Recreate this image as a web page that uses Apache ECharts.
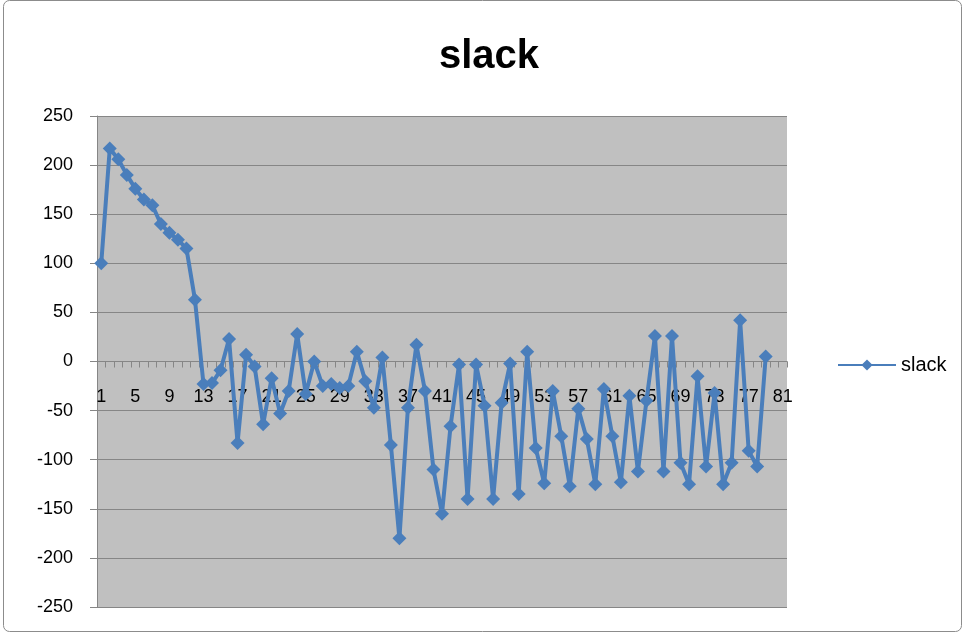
<!DOCTYPE html>
<html>
<head>
<meta charset="utf-8">
<script src="https://cdn.jsdelivr.net/npm/echarts@6/dist/echarts.min.js"></script>
<style>
html,body{margin:0;padding:0;background:#fff;}
#chart{width:964px;height:635px;}
</style>
</head>
<body>
<div id="chart"></div>
<script>
var categories = ['1','2','3','4','5','6','7','8','9','10','11','12','13','14','15','16','17','18','19','20',
'21','22','23','24','25','26','27','28','29','30','31','32','33','34','35','36','37','38','39','40',
'41','42','43','44','45','46','47','48','49','50','51','52','53','54','55','56','57','58','59','60',
'61','62','63','64','65','66','67','68','69','70','71','72','73','74','75','76','77','78','79','80','81'];

var slackValues = [100,217,206,190,176,165,159,140,131,124,115,63,-23,
-22,-9,23,-83,7,-5,-64,-17,-53,-30,28,-33,0,
-25,-23,-27,-25,10,-20,-47,4,-85,-180,-47,17,-30,
-110,-155,-66,-3,-140,-3,-45,-140,-42,-2,-135,10,-88,
-124,-30,-76,-127,-48,-79,-125,-28,-76,-123,-35,-112,-40,
26,-112,26,-103,-125,-15,-107,-32,-125,-103,42,-91,-107,5];

var yTicks = {min: -250, max: 250, step: 50};
var seriesName = 'slack';
var titleText = 'slack';

var chart = echarts.init(document.getElementById('chart'), null, {renderer: 'canvas'});
var fontFam = '"Liberation Sans", Arial, sans-serif';
var gridColor = '#868686';
var lineColor = '#4a7ebb';

var gridTop = 116, gridBottom = 28, chartH = 635;
var plotH = chartH - gridTop - gridBottom;
// x axis sits on the value 0 line
var zeroOffset = -plotH * (0 - yTicks.min) / (yTicks.max - yTicks.min);

chart.setOption({
  animation: false,
  backgroundColor: '#ffffff',
  title: {
    text: titleText,
    left: 434,
    top: 32,
    textStyle: {fontFamily: fontFam, fontSize: 40, fontWeight: 'bold', color: '#000'}
  },
  graphic: [{
    type: 'rect',
    shape: {x: 3.5, y: 0.5, width: 958, height: 631, r: 6},
    style: {fill: 'none', stroke: '#8c8c8c', lineWidth: 1},
    silent: true
  }],
  grid: {
    left: 97, right: 177, top: gridTop, bottom: gridBottom,
    outerBoundsMode: 'none',
    containLabel: false,
    show: true, backgroundColor: '#c0c0c0', borderWidth: 0
  },
  legend: {
    data: [seriesName],
    left: 832, top: 350,
    itemWidth: 58, itemHeight: 14, itemGap: 4,
    textStyle: {fontFamily: fontFam, fontSize: 20, color: '#000'}
  },
  xAxis: {
    type: 'category',
    data: categories,
    boundaryGap: true,
    position: 'bottom',
    offset: zeroOffset,
    axisLine: {onZero: false, lineStyle: {color: gridColor, width: 1}},
    axisTick: {show: true, interval: 0, length: 6, inside: false, lineStyle: {color: gridColor}},
    axisLabel: {interval: 3, margin: 27, fontFamily: fontFam, fontSize: 18, color: '#000'},
    splitLine: {show: false}
  },
  yAxis: {
    type: 'value',
    min: yTicks.min, max: yTicks.max, interval: yTicks.step,
    axisLine: {show: true, lineStyle: {color: gridColor, width: 1}},
    axisTick: {show: true, length: 7, lineStyle: {color: gridColor}},
    axisLabel: {margin: 24, fontFamily: fontFam, fontSize: 18, color: '#000'},
    splitLine: {show: true, lineStyle: {color: gridColor, width: 1}}
  },
  series: [{
    name: seriesName,
    type: 'line',
    data: slackValues,
    symbol: 'diamond',
    symbolSize: 14,
    showAllSymbol: true,
    itemStyle: {color: lineColor},
    lineStyle: {color: lineColor, width: 4}
  }]
});
</script>
</body>
</html>
